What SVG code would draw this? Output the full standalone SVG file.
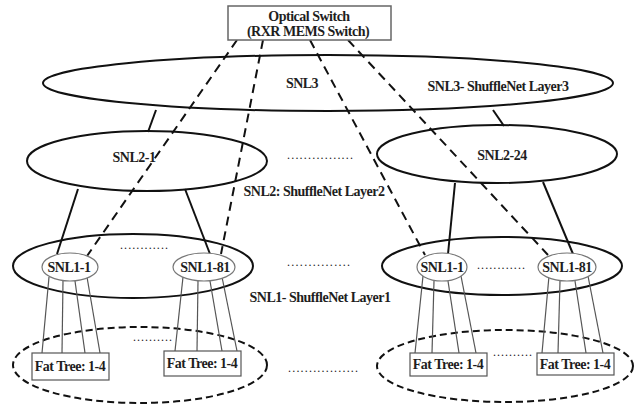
<svg xmlns="http://www.w3.org/2000/svg" width="637" height="407" viewBox="0 0 637 407">
  <style>
    .t { font-family: "Liberation Serif", "Times New Roman", serif; font-weight: bold; font-size: 14px; fill: #1e1e1e; text-anchor: middle; letter-spacing: -0.5px; }
    .big { fill: none; stroke: #111; stroke-width: 2; }
    .small { fill: #fff; stroke: #777; stroke-width: 1.2; }
    .solid { stroke: #111; stroke-width: 2; fill: none; }
    .dash { stroke: #111; stroke-width: 2; fill: none; stroke-dasharray: 9 6; }
    .thin { stroke: #555; stroke-width: 1.2; fill: none; }
    .ring { fill: none; stroke: #111; stroke-width: 2; stroke-dasharray: 7 4; }
    .box { fill: #fff; stroke: #555; stroke-width: 1.2; }
    .dots { font-family: "Liberation Serif", serif; font-size: 12px; fill: #222; }
  </style>

  <!-- layer outlines -->
  <g id="snl3">
    <ellipse class="big" cx="328" cy="83" rx="285" ry="28"/>
    <text class="t" x="302" y="88">SNL3</text>
  </g>
  <g id="snl2-1">
    <ellipse class="big" cx="147" cy="161" rx="120" ry="30"/>
    <text class="t" x="134" y="162">SNL2-1</text>
  </g>
  <g id="snl2-24">
    <ellipse class="big" cx="497" cy="154" rx="120" ry="29"/>
    <text class="t" x="502" y="160">SNL2-24</text>
  </g>
  <g id="snl1-left">
    <ellipse class="big" cx="133" cy="266" rx="120" ry="32"/>
  </g>
  <g id="snl1-right">
    <ellipse class="big" cx="502" cy="266" rx="120" ry="29"/>
  </g>
  <g id="ft-left-ring">
    <ellipse class="ring" cx="140" cy="365" rx="127" ry="38"/>
  </g>
  <g id="ft-right-ring">
    <ellipse class="ring" cx="505" cy="366" rx="128" ry="36"/>
  </g>

  <!-- connectors -->
  <g id="connectors">
    <line class="solid" x1="156" y1="110" x2="148" y2="132"/>
    <line class="solid" x1="493" y1="110" x2="504" y2="126"/>
    <line class="solid" x1="78" y1="189" x2="57" y2="254"/>
    <line class="solid" x1="185" y1="189" x2="210" y2="254"/>
    <line class="solid" x1="455" y1="183" x2="448" y2="254"/>
    <line class="solid" x1="543" y1="182" x2="573" y2="254"/>

    <line class="dash" x1="237" y1="40" x2="87" y2="256"/>
    <line class="dash" x1="263" y1="40" x2="221" y2="254"/>
    <line class="dash" x1="310" y1="40" x2="425" y2="255"/>
    <line class="dash" x1="348" y1="40" x2="548" y2="255"/>

    <line class="thin" x1="49" y1="277" x2="42" y2="353"/>
    <line class="thin" x1="63" y1="281" x2="62" y2="353"/>
    <line class="thin" x1="75" y1="281" x2="85" y2="353"/>
    <line class="thin" x1="87" y1="277" x2="100" y2="353"/>

    <line class="thin" x1="183" y1="277" x2="175" y2="351"/>
    <line class="thin" x1="198" y1="281" x2="197" y2="351"/>
    <line class="thin" x1="210" y1="281" x2="222" y2="351"/>
    <line class="thin" x1="222" y1="277" x2="237" y2="351"/>

    <line class="thin" x1="423" y1="276" x2="415" y2="353"/>
    <line class="thin" x1="434" y1="281" x2="432" y2="353"/>
    <line class="thin" x1="448" y1="281" x2="459" y2="353"/>
    <line class="thin" x1="461" y1="276" x2="476" y2="353"/>

    <line class="thin" x1="549" y1="276" x2="542" y2="353"/>
    <line class="thin" x1="560" y1="281" x2="558" y2="353"/>
    <line class="thin" x1="575" y1="281" x2="586" y2="353"/>
    <line class="thin" x1="588" y1="276" x2="603" y2="353"/>
  </g>

  <!-- optical switch -->
  <g id="optical-switch">
    <rect x="228" y="6" width="163" height="34" fill="#fff" stroke="#666" stroke-width="1.5"/>
    <text class="t" x="309" y="21">Optical Switch</text>
    <text class="t" x="308" y="36">(RXR MEMS Switch)</text>
  </g>

  <!-- layer-1 nodes -->
  <g id="snl1-1-a">
    <ellipse class="small" cx="70" cy="267" rx="28" ry="14"/>
    <text class="t" x="69" y="272">SNL1-1</text>
  </g>
  <g id="snl1-81-a">
    <ellipse class="small" cx="204" cy="267" rx="31" ry="14"/>
    <text class="t" x="205" y="272">SNL1-81</text>
  </g>
  <g id="snl1-1-b">
    <ellipse class="small" cx="442" cy="267" rx="25" ry="14"/>
    <text class="t" x="442" y="272">SNL1-1</text>
  </g>
  <g id="snl1-81-b">
    <ellipse class="small" cx="567" cy="267" rx="29" ry="14"/>
    <text class="t" x="567" y="272">SNL1-81</text>
  </g>

  <!-- fat trees -->
  <g id="ft-1">
    <rect class="box" x="32" y="353" width="77" height="27"/>
    <text class="t" x="70" y="371">Fat Tree: 1-4</text>
  </g>
  <g id="ft-2">
    <rect class="box" x="164" y="351" width="77" height="25"/>
    <text class="t" x="202" y="368">Fat Tree: 1-4</text>
  </g>
  <g id="ft-3">
    <rect class="box" x="410" y="353" width="77" height="23"/>
    <text class="t" x="448" y="369">Fat Tree: 1-4</text>
  </g>
  <g id="ft-4">
    <rect class="box" x="537" y="353" width="77" height="22"/>
    <text class="t" x="575" y="369">Fat Tree: 1-4</text>
  </g>

  <!-- layer labels -->
  <text class="t" x="498" y="91">SNL3- ShuffleNet Layer3</text>
  <text class="t" x="314" y="196">SNL2: ShuffleNet Layer2</text>
  <text class="t" x="320" y="302">SNL1- ShuffleNet Layer1</text>

  <!-- ellipsis marks -->
  <text class="dots" x="287" y="159" textLength="66">................</text>
  <text class="dots" x="120" y="249" textLength="48">............</text>
  <text class="dots" x="287" y="266" textLength="63">...............</text>
  <text class="dots" x="477" y="269" textLength="48">............</text>
  <text class="dots" x="133" y="341" textLength="39">..........</text>
  <text class="dots" x="288" y="372" textLength="70">.................</text>
  <text class="dots" x="493" y="356" textLength="39">..........</text>
</svg>
